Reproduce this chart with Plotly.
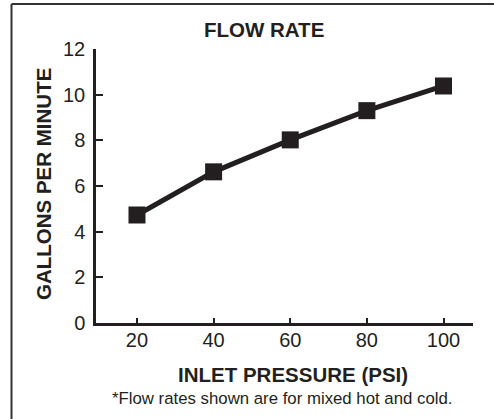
import plotly.graph_objects as go

pressure_psi = [20, 40, 60, 80, 100]
flow_gpm = [4.73, 6.62, 8.02, 9.30, 10.38]
x_ticks = [20, 40, 60, 80, 100]
y_ticks = [0, 2, 4, 6, 8, 10, 12]

INK = "#231f20"
FONT = "Liberation Sans, Arial, Helvetica, sans-serif"

W, H = 494, 419
L, R, T, B = 96, 21, 49, 96
PW, PH = W - L - R, H - T - B


def xp(px):
    return (px - L) / PW


def yp(py):
    return (H - B - py) / PH


fig = go.Figure()
fig.add_trace(go.Scatter(
    x=pressure_psi, y=flow_gpm, mode="lines+markers",
    line=dict(color=INK, width=5),
    marker=dict(symbol="square", size=17, color=INK),
    showlegend=False, cliponaxis=False,
))

fig.update_layout(
    width=W, height=H,
    margin=dict(l=L, r=R, t=T, b=B, pad=0),
    paper_bgcolor="white", plot_bgcolor="white",
    font=dict(family=FONT, color=INK, size=20),
    xaxis=dict(
        range=[9.3, 107.7], tickvals=x_ticks, ticktext=[str(v) for v in x_ticks],
        showgrid=False, zeroline=False, showline=True, linecolor=INK, linewidth=2.5,
        ticks="inside", ticklen=5, tickwidth=2, tickcolor=INK,
        tickfont=dict(size=20, family=FONT, color=INK), ticklabelstandoff=-3,
    ),
    yaxis=dict(
        range=[0, 12], tickvals=y_ticks, ticktext=[str(v) for v in y_ticks],
        showgrid=False, zeroline=False, showline=True, linecolor=INK, linewidth=2.5,
        ticks="inside", ticklen=7, tickwidth=2, tickcolor=INK,
        tickfont=dict(size=20, family=FONT, color=INK), ticklabelstandoff=4,
    ),
    shapes=[
        dict(type="line", xref="paper", yref="paper",
             x0=xp(11.5), x1=xp(W + 5), y0=yp(4), y1=yp(4),
             line=dict(color="#333333", width=2)),
        dict(type="line", xref="paper", yref="paper",
             x0=xp(11.5), x1=xp(11.5), y0=yp(4), y1=yp(H + 5),
             line=dict(color="#333333", width=2)),
    ],
    annotations=[
        dict(text="<b>FLOW RATE</b>", xref="paper", yref="paper",
             x=xp(264), y=yp(29), showarrow=False, xanchor="center", yanchor="middle",
             font=dict(size=20.5, family=FONT, color=INK)),
        dict(text="<b>GALLONS PER MINUTE</b>", xref="paper", yref="paper",
             x=xp(43), y=yp(184), showarrow=False, xanchor="center", yanchor="middle",
             textangle=-90, font=dict(size=20.5, family=FONT, color=INK)),
        dict(text="<b>INLET PRESSURE (PSI)</b>", xref="paper", yref="paper",
             x=xp(293), y=yp(374), showarrow=False, xanchor="center", yanchor="middle",
             font=dict(size=20.5, family=FONT, color=INK)),
        dict(text="*Flow rates shown are for mixed hot and cold.", xref="paper", yref="paper",
             x=xp(282), y=yp(398), showarrow=False, xanchor="center", yanchor="middle",
             font=dict(size=16.8, family=FONT, color=INK)),
    ],
)

fig.write_html(
    "out.html",
    config={"displayModeBar": False},
    post_script="document.body.style.margin='0';document.body.style.overflow='hidden';",
)
